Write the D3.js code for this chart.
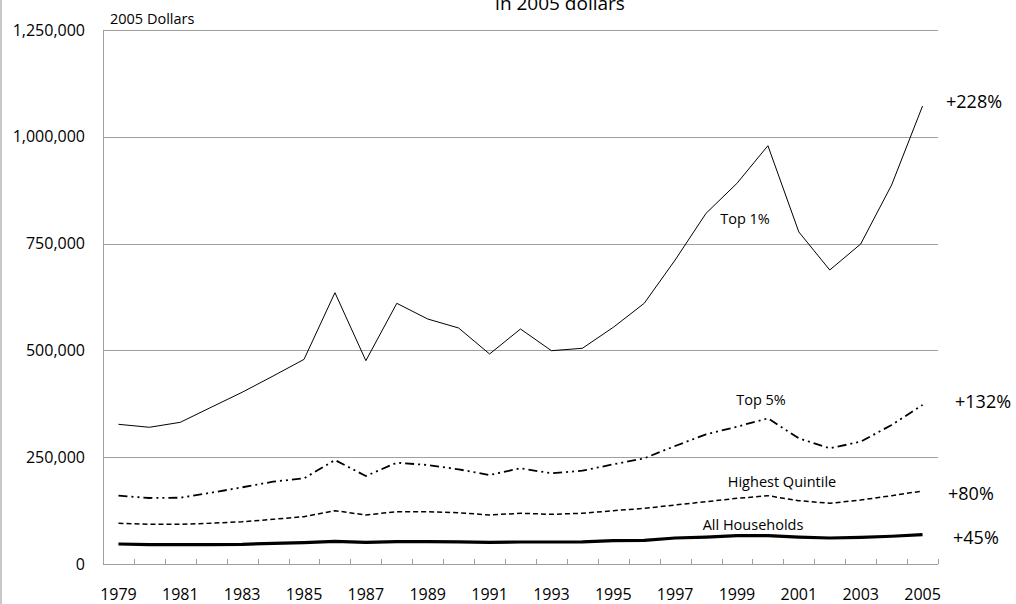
<!DOCTYPE html>
<html>
<head>
<meta charset="utf-8">
<script src="https://cdn.jsdelivr.net/npm/d3@7"></script>
<style>
  html, body { margin: 0; padding: 0; background: #fff; }
  svg { display: block; font-family: "Open Sans", sans-serif; }
</style>
</head>
<body>
<svg id="chart" width="1016" height="604"></svg>
<script>
const years = d3.range(1979, 2006);
const yTicks = [0, 250000, 500000, 750000, 1000000, 1250000];
const xLabelYears = [1979, 1981, 1983, 1985, 1987, 1989, 1991, 1993, 1995, 1997, 1999, 2001, 2003, 2005];

const top1 = [327000, 320000, 331700, 367000, 402000, 440000, 479000, 635100, 475900, 610200, 573500, 552400, 491600, 550100, 499300, 504900, 554000, 610200, 711600, 820900, 891100, 979200, 777200, 688200, 749000, 887200, 1072000];
const top5 = [159900, 154500, 155200, 166900, 179500, 192700, 200500, 243400, 206000, 237200, 231700, 221600, 208300, 224000, 212300, 218400, 233300, 247400, 276200, 303600, 321400, 341000, 294200, 270800, 286300, 325400, 372200];
const highestQuintile = [95200, 92900, 92900, 95500, 99000, 104600, 110800, 124800, 114700, 122400, 122400, 120100, 114700, 118700, 116300, 118700, 124800, 130300, 138100, 145900, 153700, 159900, 148200, 142100, 149800, 159900, 170900];
const allHouseholds = [46800, 45300, 45300, 45500, 46000, 48400, 49900, 53000, 50700, 52300, 52500, 52000, 50700, 51500, 51500, 52000, 54600, 55500, 60900, 63000, 66300, 66300, 63000, 60900, 62500, 65000, 68600];

const seriesNames = ["Top 1%", "Top 5%", "Highest Quintile", "All Households"];
const seriesChanges = ["+228%", "+132%", "+80%", "+45%"];

const svg = d3.select("#chart");
const L = 103, R = 938, T = 30, B = 564;

const x = d3.scaleBand().domain(years).range([L, R]);
const y = d3.scaleLinear().domain([0, 1250000]).range([B, T]);
const cx = d => x(d) + x.bandwidth() / 2;

// outer left border
svg.append("line").attr("x1", 1).attr("x2", 1).attr("y1", 0).attr("y2", 604)
  .attr("stroke", "#c8c8c8").attr("stroke-width", 2);

// gridlines
svg.append("g").selectAll("line").data(yTicks.filter(v => v > 0)).join("line")
  .attr("x1", L).attr("x2", R)
  .attr("y1", d => Math.round(y(d)) + 0.5).attr("y2", d => Math.round(y(d)) + 0.5)
  .attr("stroke", "#a0a0a0").attr("stroke-width", 1);

// y axis
const yAxis = svg.append("g").attr("transform", `translate(${L},0)`)
  .call(d3.axisLeft(y).tickValues(yTicks).tickFormat(d3.format(",")).tickSize(0).tickPadding(18));
yAxis.select(".domain").remove();
yAxis.selectAll("text").attr("font-size", 16).attr("fill", "#000").attr("font-family", "Open Sans, sans-serif");
svg.append("line").attr("x1", L + 0.5).attr("x2", L + 0.5).attr("y1", T).attr("y2", B)
  .attr("stroke", "#a0a0a0");

// x axis
svg.append("line").attr("x1", L).attr("x2", R).attr("y1", B + 0.5).attr("y2", B + 0.5)
  .attr("stroke", "#a0a0a0");
svg.append("g").selectAll("line").data(years).join("line")
  .attr("x1", d => Math.round(x(d) + x.bandwidth()) + 0.5)
  .attr("x2", d => Math.round(x(d) + x.bandwidth()) + 0.5)
  .attr("y1", B).attr("y2", B - 5)
  .attr("stroke", "#a0a0a0");
svg.append("g").selectAll("text").data(xLabelYears).join("text")
  .attr("x", d => cx(d)).attr("y", 600)
  .attr("text-anchor", "middle").attr("font-size", 16).text(d => d);

// axis caption + title (title partly above the frame, as in the reference)
svg.append("text").attr("x", 110).attr("y", 24).attr("font-size", 14.5).text("2005 Dollars");
svg.append("text").attr("x", 560).attr("y", 10).attr("text-anchor", "middle").attr("font-size", 19).text("in 2005 dollars");

// lines
const line = d3.line().x((d, i) => cx(years[i])).y(d => y(d));
const styles = [
  { data: top1, w: 1, dash: null },
  { data: top5, w: 1.8, dash: "9,4,2,4,2,4" },
  { data: highestQuintile, w: 1.5, dash: "5,3" },
  { data: allHouseholds, w: 3.2, dash: null }
];
styles.forEach(s => {
  svg.append("path").datum(s.data).attr("d", line)
    .attr("fill", "none").attr("stroke", "#000").attr("stroke-width", s.w)
    .attr("stroke-dasharray", s.dash).attr("stroke-linejoin", "round");
});

// series labels
const labelPos = [[745, 224], [761, 405], [782, 487], [753, 530]];
seriesNames.forEach((n, i) => {
  svg.append("text").attr("x", labelPos[i][0]).attr("y", labelPos[i][1])
    .attr("text-anchor", "middle").attr("font-size", 14.5).text(n);
});
const changePos = [[946, 108], [955, 408], [948, 500], [953, 544]];
seriesChanges.forEach((c, i) => {
  svg.append("text").attr("x", changePos[i][0]).attr("y", changePos[i][1])
    .attr("font-size", 18).text(c);
});
</script>
</body>
</html>
